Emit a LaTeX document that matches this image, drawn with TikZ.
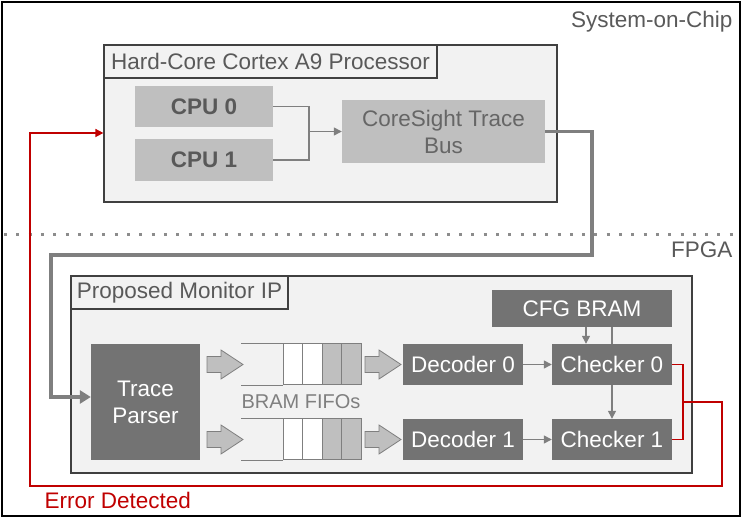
\documentclass[tikz,border=0pt]{standalone}
\usepackage{fontspec}
\setmainfont{Liberation Sans}
\usetikzlibrary{positioning,arrows.meta,calc}
\definecolor{boxbg}{HTML}{F2F2F2}
\definecolor{lightblk}{HTML}{BFBFBF}
\definecolor{darkblk}{HTML}{737373}
\definecolor{txtgray}{HTML}{595959}
\definecolor{wiregray}{HTML}{7F7F7F}
\definecolor{errred}{HTML}{C00000}
\tikzset{
  >={Triangle[length=8pt,width=8pt]},
  every node/.style={font=\fontsize{22.5}{27}\selectfont},
  regionbox/.style={draw=black!75,fill=boxbg,line width=1.2pt,inner sep=0pt},
  titlebox/.style={draw=black!75,fill=boxbg,line width=1.2pt,text=txtgray,
    inner sep=0pt,anchor=north west},
  lightblock/.style={fill=lightblk,text=txtgray,inner sep=0pt,align=center},
  darkblock/.style={fill=darkblk,text=white,inner sep=0pt,align=center},
  cellbox/.style={draw=wiregray,line width=1pt,minimum width=19.5pt,
    minimum height=41pt,inner sep=0pt},
  fifoline/.style={draw=wiregray,line width=1pt},
  wire/.style={->,draw=wiregray,line width=1.3pt},
  buswire/.style={-{Triangle[length=11pt,width=13pt]},draw=wiregray,line width=3.5pt},
  errwire/.style={->,draw=errred,line width=1.5pt},
  sepline/.style={draw=black!45,line width=3pt,dash pattern=on 3pt off 9.3pt},
  regionlbl/.style={text=txtgray},
  fatarrow/.pic={\draw[draw=wiregray,fill=lightblk,line width=0.8pt]
    (-18,-8) -- (-4,-8) -- (-4,-14.5) -- (18,0) -- (-4,14.5) -- (-4,8) -- (-18,8) -- cycle;},
}

\begin{document}
\begin{tikzpicture}[x=1pt,y=-1pt]
  \useasboundingbox (0,0) rectangle (742,518);
  \draw[line width=2pt] (2,2) rectangle (740,516);
  \node[regionlbl,anchor=east] (soc) at (736,22) {System-on-Chip};
  \draw[sepline] (4,235) -- (740,235);
  \node[regionlbl,anchor=east] (fpga) at (736,250) {FPGA};

  \node[regionbox,minimum width=453pt,minimum height=157pt] (proc) at (330.5,123.5) {};
  \node[titlebox,minimum width=333pt,minimum height=33pt] (proclbl) at (proc.north west)
    {Hard-Core Cortex A9 Processor};
  \node[lightblock,minimum width=138pt,minimum height=41pt,font=\fontsize{22.5}{27}\selectfont\bfseries]
    (cpu0) at (204,106.5) {CPU 0};
  \node[lightblock,minimum width=138pt,minimum height=42pt,font=\fontsize{22.5}{27}\selectfont\bfseries]
    (cpu1) at (204,160) {CPU 1};
  \node[lightblock,minimum width=203pt,minimum height=63pt,text=black!60] (bus) at (443.5,131.5)
    {CoreSight Trace\\Bus};
  \coordinate (join) at (309,131.5);
  \draw[wire,-] (cpu0.east) -| (join);
  \draw[wire,-] (cpu1.east) -| (join);
  \draw[wire] (join) -- (bus.west);

  \node[regionbox,minimum width=621pt,minimum height=197pt] (mon) at (381.5,374.5) {};
  \node[titlebox,minimum width=217pt,minimum height=33pt] (monlbl) at (mon.north west)
    {Proposed Monitor IP};
  \node[darkblock,minimum width=180pt,minimum height=37pt] (cfg) at (582,308.5) {CFG BRAM};
  \node[darkblock,minimum width=109pt,minimum height=116pt] (parser) at (145.5,402) {Trace\\Parser};
  \foreach \r/\y in {0/364.5,1/439.5}{
    \pic at (225,\y) {fatarrow};
    \foreach \i/\c in {0/white,1/white,2/lightblk,3/lightblk}
      \node[cellbox,fill=\c] (f\r c\i) at ({292.75+19.5*\i},\y) {};
    \draw[fifoline] (f\r c0.north west) -- ++(-42,0);
    \draw[fifoline] (f\r c0.south west) -- ++(-42,0);
    \pic at (383,\y) {fatarrow};
    \node[darkblock,minimum width=120pt,minimum height=41pt] (dec\r) at (463,\y) {Decoder \r};
    \node[darkblock,minimum width=120pt,minimum height=41pt] (chk\r) at (612,\y) {Checker \r};
    \draw[wire] (dec\r.east) -- (chk\r.west);
  }
  \node[text=wiregray,font=\fontsize{20}{24}\selectfont] (fifolbl) at (301,402) {BRAM FIFOs};

  \coordinate (tap) at ($(chk0.north)+(-26,0)$);
  \draw[wire] (tap |- cfg.south) -- (tap);
  \draw[wire,-] (cfg.south -| chk0.north) -- (chk0.north);
  \draw[wire] (chk0.south) -- (chk1.north);

  \coordinate (busturn) at (592,255);
  \coordinate (busleft) at (51,255);
  \draw[buswire] (bus.east) -| (busturn) -- (busleft) |- ([yshift=5pt]parser.west);

  \coordinate (rmid) at ($(chk0.east)!0.5!(chk1.east)+(11,0)$);
  \coordinate (errcorner) at (722,486);
  \coordinate (errleft) at (30,486);
  \draw[errwire,-] (chk0.east) -| (rmid) |- (chk1.east);
  \draw[errwire] (rmid) -| (errcorner) -- (errleft) |- ([yshift=-9.5pt]proc.west);
  \node[anchor=west,text=errred] (err) at (41,500) {Error Detected};
\end{tikzpicture}
\end{document}
